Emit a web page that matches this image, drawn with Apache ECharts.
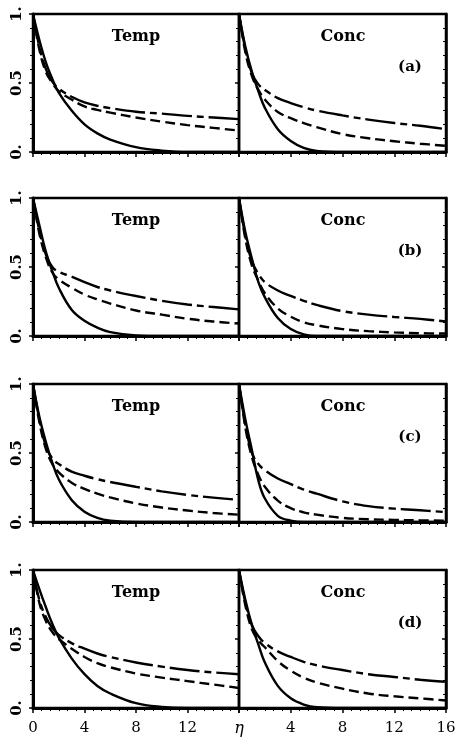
<!DOCTYPE html>
<html>
<head>
<meta charset="utf-8">
<script src="https://cdn.jsdelivr.net/npm/echarts@6/dist/echarts.min.js"></script>
<style>
  html, body { margin: 0; padding: 0; background: #fff; }
  #chart { width: 461px; height: 739px; }
</style>
</head>
<body>
<div id="chart"></div>
<script>
// similarity variable, shared by every curve
const eta = [0, 0.5, 1, 1.5, 2, 3, 4, 5, 6, 8, 10, 12, 14, 16];

// (a)
const tempA_solid   = [1, 0.81, 0.65, 0.53, 0.43, 0.30, 0.20, 0.135, 0.09, 0.035, 0.01, 0, 0, 0];
const tempA_dash    = [1, 0.74, 0.58, 0.50, 0.44, 0.38, 0.33, 0.305, 0.285, 0.25, 0.22, 0.195, 0.175, 0.155];
const tempA_dashdot = [1, 0.76, 0.60, 0.51, 0.46, 0.40, 0.36, 0.335, 0.318, 0.292, 0.278, 0.262, 0.25, 0.238];
const concA_solid   = [1, 0.76, 0.58, 0.44, 0.32, 0.165, 0.08, 0.03, 0.008, 0, 0, 0, 0, 0];
const concA_dash    = [1, 0.72, 0.55, 0.45, 0.38, 0.29, 0.245, 0.21, 0.18, 0.13, 0.10, 0.078, 0.06, 0.045];
const concA_dashdot = [1, 0.74, 0.57, 0.49, 0.45, 0.39, 0.355, 0.325, 0.30, 0.265, 0.235, 0.21, 0.19, 0.165];

// (b)
const tempB_solid   = [1, 0.80, 0.61, 0.47, 0.35, 0.19, 0.11, 0.06, 0.028, 0.004, 0, 0, 0, 0];
const tempB_dash    = [1, 0.74, 0.57, 0.46, 0.41, 0.35, 0.30, 0.265, 0.235, 0.185, 0.155, 0.125, 0.105, 0.09];
const tempB_dashdot = [1, 0.76, 0.59, 0.50, 0.465, 0.43, 0.39, 0.355, 0.33, 0.29, 0.255, 0.228, 0.21, 0.193];
const concB_solid   = [1, 0.75, 0.56, 0.39, 0.28, 0.13, 0.05, 0.012, 0, 0, 0, 0, 0, 0];
const concB_dash    = [1, 0.70, 0.51, 0.40, 0.31, 0.20, 0.14, 0.10, 0.078, 0.05, 0.035, 0.026, 0.02, 0.018];
const concB_dashdot = [1, 0.72, 0.54, 0.45, 0.39, 0.33, 0.29, 0.255, 0.225, 0.18, 0.155, 0.138, 0.124, 0.105];

// (c)
const tempC_solid   = [1, 0.76, 0.58, 0.43, 0.31, 0.16, 0.075, 0.03, 0.01, 0, 0, 0, 0, 0];
const tempC_dash    = [1, 0.72, 0.53, 0.42, 0.36, 0.285, 0.24, 0.205, 0.178, 0.135, 0.105, 0.083, 0.065, 0.053];
const tempC_dashdot = [1, 0.74, 0.55, 0.46, 0.42, 0.365, 0.335, 0.31, 0.29, 0.255, 0.222, 0.196, 0.177, 0.16];
const concC_solid   = [1, 0.74, 0.52, 0.30, 0.17, 0.045, 0.01, 0, 0, 0, 0, 0, 0, 0];
const concC_dash    = [1, 0.68, 0.47, 0.34, 0.255, 0.155, 0.10, 0.07, 0.053, 0.03, 0.02, 0.015, 0.012, 0.01];
const concC_dashdot = [1, 0.70, 0.50, 0.42, 0.375, 0.315, 0.275, 0.235, 0.205, 0.15, 0.115, 0.097, 0.085, 0.072];

// (d)
const tempD_solid   = [1, 0.86, 0.73, 0.61, 0.51, 0.36, 0.245, 0.16, 0.105, 0.035, 0.008, 0, 0, 0];
const tempD_dash    = [1, 0.76, 0.63, 0.55, 0.50, 0.43, 0.37, 0.325, 0.295, 0.25, 0.22, 0.195, 0.17, 0.145];
const tempD_dashdot = [1, 0.78, 0.66, 0.58, 0.53, 0.47, 0.43, 0.395, 0.37, 0.33, 0.30, 0.275, 0.258, 0.245];
const concD_solid   = [1, 0.78, 0.60, 0.46, 0.33, 0.16, 0.07, 0.025, 0.005, 0, 0, 0, 0, 0];
const concD_dash    = [1, 0.74, 0.57, 0.49, 0.44, 0.34, 0.27, 0.22, 0.185, 0.14, 0.105, 0.085, 0.07, 0.054];
const concD_dashdot = [1, 0.76, 0.60, 0.52, 0.47, 0.41, 0.37, 0.335, 0.31, 0.275, 0.245, 0.225, 0.205, 0.19];

const caseLabels = ['(a)', '(b)', '(c)', '(d)'];
const xTicksLeft = ['0', '4', '8', '12', ''];
const xTicksRight = ['{eta|η}', '4', '8', '12', '16'];
const yTicks = { 0: '0.', 0.5: '0.5', 1: '1.' };

const panels = [
  [[tempA_solid, tempA_dash, tempA_dashdot], [concA_solid, concA_dash, concA_dashdot]],
  [[tempB_solid, tempB_dash, tempB_dashdot], [concB_solid, concB_dash, concB_dashdot]],
  [[tempC_solid, tempC_dash, tempC_dashdot], [concC_solid, concC_dash, concC_dashdot]],
  [[tempD_solid, tempD_dash, tempD_dashdot], [concD_solid, concD_dash, concD_dashdot]]
];

const font = '"DejaVu Serif", "Liberation Serif", serif';
const rowTops = [14, 198, 384, 570];
const panelH = 138;
const cols = [{ left: 33, width: 206 }, { left: 239, width: 207 }];
const lineTypes = ['solid', [10, 5], [30, 5, 7, 5]];

const grid = [], xAxis = [], yAxis = [], series = [], graphic = [];

rowTops.forEach((top, r) => {
  cols.forEach((c, ci) => {
    const gi = grid.length;
    const bottomRow = r === rowTops.length - 1;
    grid.push({
      left: c.left, top: top, width: c.width, height: panelH,
      show: true, borderColor: '#000', borderWidth: 2.5, backgroundColor: 'transparent'
    });
    xAxis.push({
      gridIndex: gi, type: 'value', min: 0, max: 16, interval: 4,
      axisLine: { show: true, onZero: false, lineStyle: { color: '#000', width: 3 } },
      axisTick: { show: true, length: 5, lineStyle: { color: '#000', width: 1.5 } },
      minorTick: { show: true, splitNumber: 6, length: 3, lineStyle: { color: '#000', width: 1 } },
      splitLine: { show: false }, minorSplitLine: { show: false },
      axisLabel: {
        show: bottomRow, margin: 13, color: '#000', fontFamily: font, fontSize: 15,
        showMinLabel: true, showMaxLabel: true,
        formatter: v => (ci === 0 ? xTicksLeft : xTicksRight)[v / 4],
        rich: { eta: { fontFamily: font, fontStyle: 'italic', fontSize: 16, color: '#000' } }
      }
    });
    const yi = yAxis.length;
    yAxis.push({
      gridIndex: gi, type: 'value', min: 0, max: 1, interval: 0.5, position: 'left',
      axisLine: { show: true, onZero: false, lineStyle: { color: '#000', width: ci === 0 ? 3 : 2 } },
      axisTick: { show: true, length: 4, lineStyle: { color: '#000', width: 1.5 } },
      minorTick: { show: true, splitNumber: 5, length: 3, lineStyle: { color: '#000', width: 1 } },
      splitLine: { show: false }, minorSplitLine: { show: false },
      axisLabel: {
        show: ci === 0, rotate: 90, margin: 8, color: '#000', fontFamily: font,
        fontSize: 15, fontWeight: 'bold', formatter: v => yTicks[v]
      }
    });
    if (ci === 1) {
      yAxis.push({
        gridIndex: gi, type: 'value', min: 0, max: 1, interval: 0.5, position: 'right',
        axisLine: { show: true, onZero: false, lineStyle: { color: '#000', width: 2.5 } },
        axisTick: { show: true, inside: true, length: 4, lineStyle: { color: '#000', width: 1.5 } },
        minorTick: { show: true, splitNumber: 5, length: 3, lineStyle: { color: '#000', width: 1 } },
        splitLine: { show: false }, minorSplitLine: { show: false },
        axisLabel: { show: false }
      });
    }
    panels[r][ci].forEach((vals, k) => {
      series.push({
        type: 'line', xAxisIndex: gi, yAxisIndex: yi,
        data: eta.map((x, j) => [x, vals[j]]),
        smooth: 0.4, showSymbol: false, symbol: 'none',
        lineStyle: { color: '#000', width: 2.4, type: lineTypes[k], cap: 'butt' },
        clip: true, silent: true
      });
    });
    graphic.push({
      type: 'text', x: c.left + (ci === 0 ? 103 : 104), y: top + 23,
      style: {
        text: ci === 0 ? 'Temp' : 'Conc', fill: '#000', font: 'bold 16px ' + font,
        textAlign: 'center', textVerticalAlign: 'middle'
      }
    });
    if (ci === 1) {
      graphic.push({
        type: 'text', x: c.left + 171, y: top + 53,
        style: {
          text: caseLabels[r], fill: '#000', font: 'bold 15px ' + font,
          textAlign: 'center', textVerticalAlign: 'middle'
        }
      });
    }
  });
});

const chart = echarts.init(document.getElementById('chart'));
chart.setOption({
  animation: false,
  backgroundColor: '#fff',
  grid, xAxis, yAxis, series, graphic
});
window.onresize = function () { chart.resize(); };
</script>
</body>
</html>
